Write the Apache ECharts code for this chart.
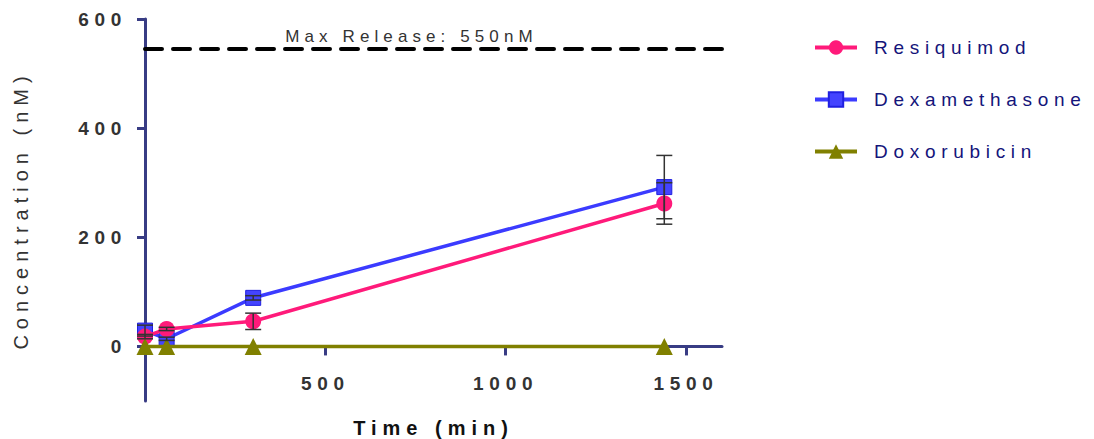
<!DOCTYPE html>
<html>
<head>
<meta charset="utf-8">
<script src="https://cdn.jsdelivr.net/npm/echarts@6/dist/echarts.min.js"></script>
<style>
html, body { margin: 0; padding: 0; background: #fff; }
#chart { width: 1094px; height: 439px; }
#chart svg text { letter-spacing: 0.3em; }
</style>
</head>
<body>
<div id="chart"></div>
<script>
var times = [0, 60, 300, 1440];
var resiquimod = [18, 32, 46, 262];
var resiquimodErr = [4, 3, 15, 38];
var dexamethasone = [29, 14, 89, 292];
var dexamethasoneErr = [10, 3, 4, 58];
var doxorubicin = [0, 0, 0, 0];
var yTicks = [0, 200, 400, 600];
var xTicks = [500, 1000, 1500];
var maxRelease = 545;

var axisColor = '#383c84';
var labelColor = '#333333';
var font = 'Liberation Sans, Arial, sans-serif';

function pairs(vals) {
    return times.map(function (t, i) { return [t, vals[i]]; });
}

// error bars, drawn through the axes
function errorBars(name, vals, errs) {
    return {
        type: 'custom',
        name: name + ' SD',
        silent: true,
        z: 5,
        encode: { x: 0, y: [1, 2] },
        data: times.map(function (t, i) { return [t, vals[i] - errs[i], vals[i] + errs[i]]; }),
        renderItem: function (params, api) {
            var lo = api.coord([api.value(0), api.value(1)]);
            var hi = api.coord([api.value(0), api.value(2)]);
            var w = 8;
            var st = { stroke: '#333', lineWidth: 1.5 };
            return {
                type: 'group',
                children: [
                    { type: 'line', shape: { x1: hi[0], y1: hi[1], x2: lo[0], y2: lo[1] }, style: st },
                    { type: 'line', shape: { x1: hi[0] - w, y1: hi[1], x2: hi[0] + w, y2: hi[1] }, style: st },
                    { type: 'line', shape: { x1: lo[0] - w, y1: lo[1], x2: lo[0] + w, y2: lo[1] }, style: st }
                ]
            };
        }
    };
}

var option = {
    animation: false,
    textStyle: { fontFamily: font },
    grid: { left: 145, right: 372, top: 19, bottom: 38, outerBoundsMode: 'none' },
    legend: {
        orient: 'vertical',
        left: 808,
        top: 33,
        itemWidth: 42,
        itemHeight: 18,
        itemGap: 33,
        lineStyle: { width: 4 },
        data: ['Resiquimod', 'Dexamethasone', 'Doxorubicin'],
        textStyle: { color: '#14147a', fontSize: 19, fontFamily: font, padding: [0, 0, 0, 12] }
    },
    xAxis: {
        type: 'value',
        min: 0,
        max: 1600,
        name: 'Time (min)',
        nameLocation: 'middle',
        nameGap: 17,
        nameTextStyle: { color: '#111', fontSize: 20, fontWeight: 'bold', fontFamily: font },
        splitLine: { show: false },
        axisLine: { onZero: true, lineStyle: { color: axisColor, width: 3 } },
        axisTick: { customValues: xTicks, length: 9, lineStyle: { color: axisColor, width: 3 } },
        axisLabel: {
            customValues: xTicks, margin: -27, color: labelColor, fontSize: 19, fontWeight: 'bold', fontFamily: font,
            formatter: function (v) { return String(v); }
        }
    },
    yAxis: {
        type: 'value',
        min: -100,
        max: 600,
        name: 'Concentration (nM)',
        nameLocation: 'middle',
        nameGap: 114,
        nameTextStyle: { color: labelColor, fontSize: 20, fontFamily: font },
        splitLine: { show: false },
        axisLine: { lineStyle: { color: axisColor, width: 3 } },
        axisTick: { customValues: yTicks, length: 8, lineStyle: { color: axisColor, width: 3 } },
        axisLabel: {
            customValues: yTicks, margin: 18, color: labelColor, fontSize: 19, fontWeight: 'bold', fontFamily: font,
            formatter: function (v) { return String(v); }
        }
    },
    series: [
        {
            name: 'Dexamethasone',
            type: 'line',
            z: 2,
            data: pairs(dexamethasone),
            symbol: 'rect',
            symbolSize: 15,
            lineStyle: { color: '#3b3bff', width: 3.5 },
            itemStyle: { color: '#4444ff', borderColor: '#2020e0', borderWidth: 1 }
        },
        {
            name: 'Resiquimod',
            type: 'line',
            z: 3,
            data: pairs(resiquimod),
            symbol: 'circle',
            symbolSize: 16,
            lineStyle: { color: '#ff1a7a', width: 3.5 },
            itemStyle: { color: '#ff1a7a' },
            markLine: {
                silent: true,
                symbol: 'none',
                data: [{ yAxis: maxRelease }],
                lineStyle: { color: '#000', width: 4, type: [17, 11], cap: 'round' },
                label: {
                    formatter: 'Max Release: 550nM',
                    position: 'insideMiddleTop',
                    offset: [-22, 0],
                    distance: 4,
                    color: labelColor,
                    fontSize: 17,
                    fontFamily: font
                }
            }
        },
        {
            name: 'Doxorubicin',
            type: 'line',
            z: 4,
            data: pairs(doxorubicin),
            symbol: 'triangle',
            symbolSize: 17,
            lineStyle: { color: '#808000', width: 3.5 },
            itemStyle: { color: '#808000' }
        },
        errorBars('Resiquimod', resiquimod, resiquimodErr),
        errorBars('Dexamethasone', dexamethasone, dexamethasoneErr)
    ]
};

var myChart = echarts.init(document.getElementById('chart'), null, { renderer: 'svg' });
myChart.setOption(option);
</script>
</body>
</html>
